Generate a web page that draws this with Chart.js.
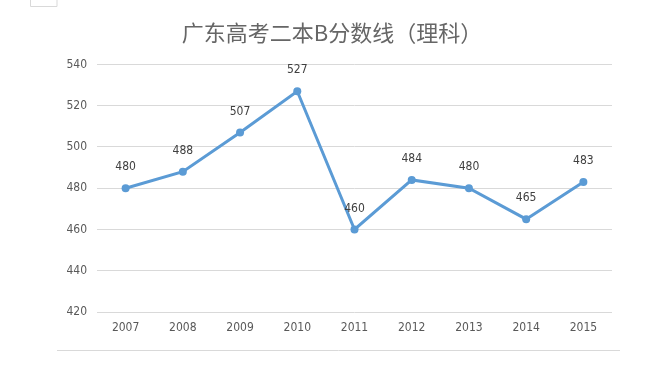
<!DOCTYPE html>
<html>
<head>
<meta charset="utf-8">
<script src="https://cdn.jsdelivr.net/npm/chart.js@4"></script>
<style>
    html, body { margin: 0; padding: 0; background: #fff; }
    #wrap { width: 657px; height: 374px; position: relative; }
</style>
</head>
<body>
<div id="wrap"><canvas id="chart"></canvas></div>
<script>
const years = ['2007', '2008', '2009', '2010', '2011', '2012', '2013', '2014', '2015'];
const scores = [480, 488, 507, 527, 460, 484, 480, 465, 483];
const chartTitle = '广东高考二本B分数线（理科）';
const yMin = 420;
const yMax = 540;
const yStep = 20;

const tickFont = { family: '"Liberation Sans Narrow", "DejaVu Sans Condensed", "Liberation Sans", sans-serif', size: 12 };

// labels above each point plus the frame line at the bottom
const pointLabels = {
    id: 'pointLabels',
    afterDatasetsDraw(chart) {
        const ctx = chart.ctx;
        const meta = chart.getDatasetMeta(0);
        ctx.save();
        ctx.font = '12px ' + tickFont.family;
        ctx.fillStyle = '#404040';
        ctx.textAlign = 'center';
        ctx.textBaseline = 'middle';
        meta.data.forEach((pt, i) => {
            ctx.fillText(String(chart.data.datasets[0].data[i]), pt.x, pt.y - 21);
        });
        ctx.strokeStyle = '#d9d9d9';
        ctx.lineWidth = 1;
        ctx.beginPath();
        ctx.moveTo(57, 350.5);
        ctx.lineTo(620, 350.5);
        ctx.moveTo(30.5, 0);
        ctx.lineTo(30.5, 6.5);
        ctx.lineTo(57, 6.5);
        ctx.lineTo(57, 0);
        ctx.stroke();
        ctx.restore();
    }
};

new Chart(document.getElementById('chart'), {
    type: 'line',
    data: {
        labels: years,
        datasets: [{
            data: scores,
            borderColor: '#5b9bd5',
            backgroundColor: '#5b9bd5',
            borderWidth: 3,
            pointRadius: 4,
            pointHoverRadius: 4,
            pointBorderWidth: 0,
            tension: 0
        }]
    },
    options: {
        responsive: true,
        maintainAspectRatio: false,
        animation: false,
        layout: { padding: { left: 52, right: 45, top: 0, bottom: 32 } },
        scales: {
            x: {
                offset: true,
                grid: { display: false, drawTicks: false },
                border: { display: false },
                ticks: { color: '#595959', font: tickFont, padding: 9 },
                afterFit(scale) { scale.height = 30; }
            },
            y: {
                min: yMin,
                max: yMax,
                grid: { color: '#d9d9d9', drawTicks: false },
                border: { display: false },
                ticks: { stepSize: yStep, color: '#595959', font: tickFont, padding: 10 },
                afterFit(scale) { scale.width = 45; }
            }
        },
        plugins: {
            legend: { display: false },
            tooltip: { enabled: false },
            title: {
                display: true,
                text: chartTitle,
                color: '#666666',
                font: { family: '"Noto Sans CJK SC", sans-serif', size: 22, weight: 'normal' },
                padding: { top: 19, bottom: 19 }
            }
        }
    },
    plugins: [pointLabels]
});
</script>
</body>
</html>
